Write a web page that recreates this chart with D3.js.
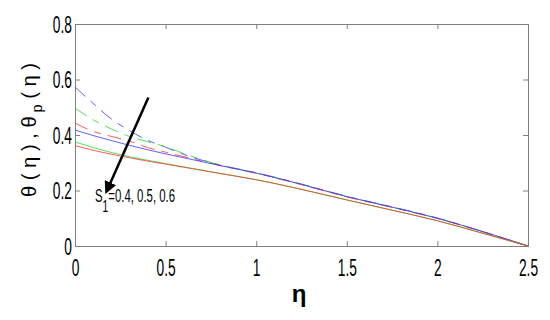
<!DOCTYPE html>
<html>
<head>
<meta charset="utf-8">
<script src="https://cdn.jsdelivr.net/npm/d3@7"></script>
<style>
  body { margin: 0; background: #fff; }
  text { font-family: "Liberation Sans", Arial, sans-serif; }
</style>
</head>
<body>
<svg width="550" height="320"></svg>
<script>
// data
const eta = [0, 0.1, 0.2, 0.3, 0.4, 0.5, 0.6, 0.8, 1.0, 1.25, 1.5, 1.75, 2.0, 2.25, 2.5];

// theta (solid)
const thetaRed   = [0.362, 0.345, 0.331, 0.318, 0.306, 0.295, 0.284, 0.261, 0.239, 0.204, 0.166, 0.129, 0.091, 0.046, 0];
const thetaGreen = [0.375, 0.355, 0.337, 0.322, 0.309, 0.297, 0.285, 0.262, 0.239, 0.204, 0.166, 0.129, 0.091, 0.046, 0];
const thetaBlue  = [0.418, 0.398, 0.380, 0.363, 0.347, 0.332, 0.318, 0.290, 0.263, 0.222, 0.178, 0.140, 0.100, 0.052, 0];

// theta_p (dashed)
const thetaPRed   = [0.443, 0.413, 0.395, 0.378, 0.355, 0.338, 0.322, 0.290, 0.262, 0.221, 0.177, 0.139, 0.099, 0.051, 0];
const thetaPGreen = [0.497, 0.455, 0.422, 0.395, 0.376, 0.358, 0.333, 0.292, 0.263, 0.222, 0.178, 0.140, 0.100, 0.052, 0];
const thetaPBlue  = [0.573, 0.514, 0.458, 0.416, 0.381, 0.356, 0.330, 0.292, 0.264, 0.223, 0.179, 0.141, 0.101, 0.052, 0];

const xTicks = [0, 0.5, 1, 1.5, 2, 2.5];
const yTicks = [0, 0.2, 0.4, 0.6, 0.8];

const svg = d3.select("svg");

const x = d3.scaleLinear().domain([0, 2.5]).range([75, 528]);
const y = d3.scaleLinear().domain([0, 0.8]).range([246, 24]);

const axisColor = "#808080";
const squeeze = 0.6; // the figure's fonts are very narrow

// axes (ticks point inward, like matlab)
const gx = svg.append("g")
  .attr("transform", `translate(0,${y(0)})`)
  .call(d3.axisBottom(x).tickValues(xTicks).tickSize(-5).tickPadding(14).tickFormat(d3.format("")));
const gxTop = svg.append("g")
  .attr("transform", `translate(0,${y(0.8)})`)
  .call(d3.axisTop(x).tickValues(xTicks).tickSize(-5).tickFormat(""));
const gy = svg.append("g")
  .attr("transform", `translate(${x(0)},0)`)
  .call(d3.axisLeft(y).tickValues(yTicks).tickSize(-5).tickPadding(3).tickFormat(d3.format("")));
const gyRight = svg.append("g")
  .attr("transform", `translate(${x(2.5)},0)`)
  .call(d3.axisRight(y).tickValues(yTicks).tickSize(-5).tickFormat(""));

[gx, gxTop, gy, gyRight].forEach(g => {
  g.select(".domain").attr("stroke", axisColor);
  g.selectAll(".tick line").attr("stroke", axisColor);
  g.selectAll("text")
    .attr("fill", "#000")
    .style("font-size", "23px")
    .attr("transform", `scale(${squeeze},1)`);
});
gy.selectAll("text").attr("x", -3 / squeeze).attr("dy", "0.36em");

// curves
const line = d3.line()
  .x((d, i) => x(eta[i]))
  .y(d => y(d))
  .curve(d3.curveMonotoneX);

const series = [
  { v: thetaPBlue, c: "#3a3aff", dash: "14,7,7,7" },
  { v: thetaPGreen, c: "#22dd22", dash: "14,7,7,7" },
  { v: thetaPRed, c: "#ff3333", dash: "14,7,7,7" },
  { v: thetaBlue, c: "#3a3aff", dash: null },
  { v: thetaGreen, c: "#22dd22", dash: null },
  { v: thetaRed, c: "#ff3333", dash: null }
];

svg.append("g")
  .selectAll("path")
  .data(series)
  .join("path")
  .attr("d", d => line(d.v))
  .attr("fill", "none")
  .attr("stroke", d => d.c)
  .attr("stroke-width", 1)
  .attr("stroke-opacity", 0.8)
  .attr("stroke-dasharray", d => d.dash);

// arrow annotation
svg.append("defs").append("marker")
  .attr("id", "head")
  .attr("viewBox", "0 0 10 10")
  .attr("refX", 2)
  .attr("refY", 5)
  .attr("markerWidth", 5)
  .attr("markerHeight", 5)
  .attr("orient", "auto")
  .append("path")
  .attr("d", "M0,0 L10,5 L0,10 Z")
  .attr("fill", "#000");

svg.append("line")
  .attr("x1", x(0.405)).attr("y1", y(0.535))
  .attr("x2", x(0.19)).attr("y2", y(0.22))
  .attr("stroke", "#000")
  .attr("stroke-width", 2.5)
  .attr("marker-end", "url(#head)");

const lab = svg.append("text")
  .attr("transform", `translate(95,202) scale(${squeeze},1)`)
  .style("font-size", "19px");
lab.append("tspan").text("S");
lab.append("tspan").attr("dy", 10).style("font-size", "17px").text("1");
lab.append("tspan").attr("dy", -10).text("=0.4, 0.5, 0.6");

// axis titles
svg.append("text")
  .attr("x", 299)
  .attr("y", 302)
  .attr("text-anchor", "middle")
  .style("font-size", "24px")
  .style("font-weight", "bold")
  .text("η");

const yl = svg.append("text")
  .attr("transform", "translate(36,130) rotate(-90)")
  .attr("text-anchor", "middle")
  .attr("textLength", 134)
  .attr("lengthAdjust", "spacingAndGlyphs")
  .style("font-size", "21px");
yl.append("tspan").text("θ ( η ) ,  θ");
yl.append("tspan").attr("dy", 6).style("font-size", "15px").text(" p");
yl.append("tspan").attr("dy", -6).text(" ( η )");
</script>
</body>
</html>
